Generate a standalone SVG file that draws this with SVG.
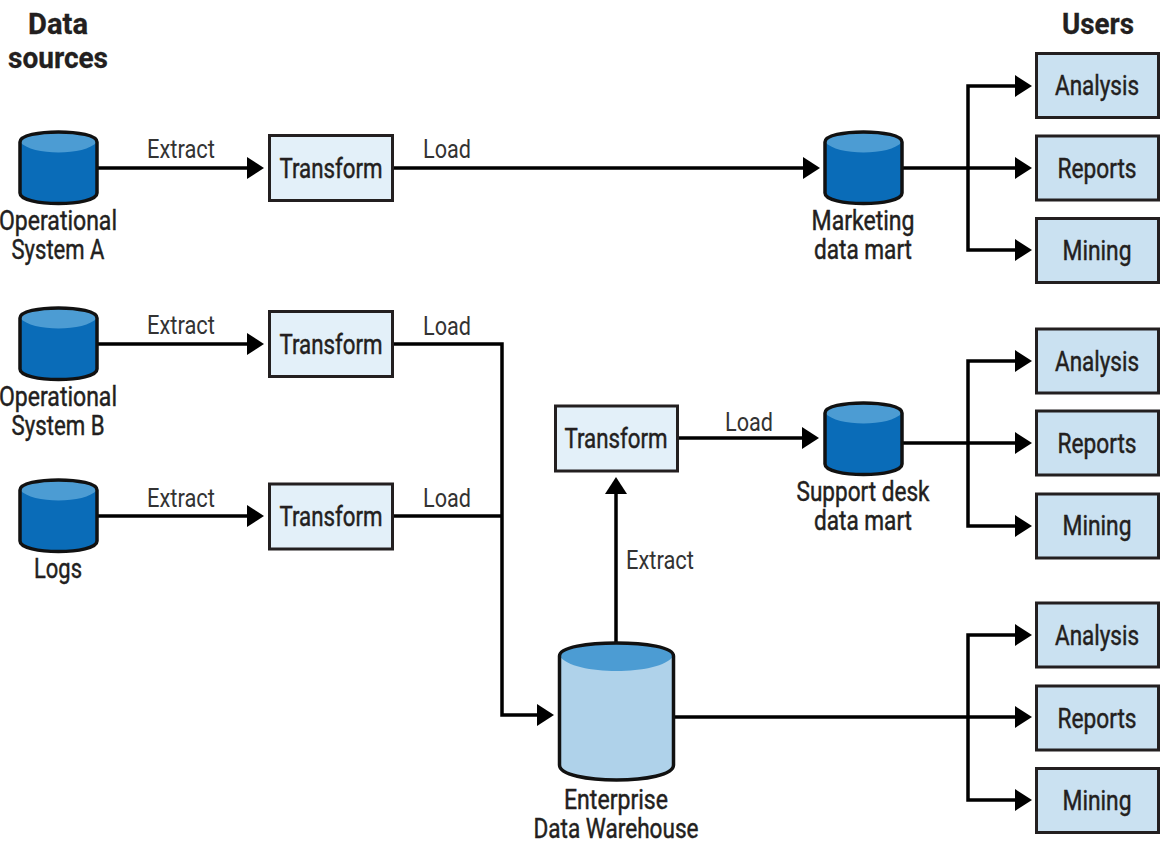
<svg xmlns="http://www.w3.org/2000/svg" xmlns:xlink="http://www.w3.org/1999/xlink" width="1170" height="848" viewBox="0 0 1170 848">
<style>
text{font-family:Roboto,"Liberation Sans",sans-serif;fill:#231f20;text-anchor:middle;font-size:27px;stroke:#231f20;stroke-width:.45px;transform:translateY(.7px)}
.h{font-size:29px;font-weight:700;stroke:#231f20;stroke-width:.3px}
.l{font-size:26px;stroke:none;fill:#333}
.t{fill:#e3f0f9;stroke:#231f20;stroke-width:3}
.u{fill:#cae1f1;stroke:#231f20;stroke-width:3}
.c{fill:none;stroke:#000;stroke-width:3.5;stroke-linejoin:miter}
.body{fill:#0a6cb8}
.top{fill:#4c9cd3}
.wb{fill:#afd2ea}
.o{fill:none;stroke:#111;stroke-width:3.5}
</style>
<defs>
<marker id="a" markerUnits="userSpaceOnUse" markerWidth="20" markerHeight="26" refX="0" refY="11" orient="auto" overflow="visible"><path d="M0 0L17 11L0 22Z" fill="#000"/></marker>
<g id="cyl"><path class="body" d="M20 142C20 128.500 97 128.500 97 142V193C97 207 20 207 20 193Z"/><path class="top" d="M20 142C20 128.500 97 128.500 97 142C85 156 32 156 20 142Z"/><path class="o" d="M20 142C20 128.500 97 128.500 97 142V193C97 207 20 207 20 193Z"/></g>
</defs>
<g id="connectors">
<path class="c" marker-end="url(#a)" d="M98 168H247"/>
<path class="c" marker-end="url(#a)" d="M392 168H803"/>
<path class="c" marker-end="url(#a)" d="M903 168H1015"/>
<path class="c" marker-end="url(#a)" d="M968 168V86H1015"/>
<path class="c" marker-end="url(#a)" d="M968 168V250H1015"/>
<path class="c" marker-end="url(#a)" d="M98 344H247"/>
<path class="c" marker-end="url(#a)" d="M98 516H247"/>
<path class="c" marker-end="url(#a)" d="M392 344H502V715H537"/>
<path class="c" d="M392 516H502"/>
<path class="c" marker-end="url(#a)" d="M678 438H802"/>
<path class="c" marker-end="url(#a)" d="M616 643V494"/>
<path class="c" marker-end="url(#a)" d="M903 443H1015"/>
<path class="c" marker-end="url(#a)" d="M968 443V361H1015"/>
<path class="c" marker-end="url(#a)" d="M968 443V526H1015"/>
<path class="c" marker-end="url(#a)" d="M674 717H1015"/>
<path class="c" marker-end="url(#a)" d="M968 717V635H1015"/>
<path class="c" marker-end="url(#a)" d="M968 717V800H1015"/>
</g>
<g id="headers">
<text class="h" x="58" y="33" textLength="60" lengthAdjust="spacingAndGlyphs">Data</text>
<text class="h" x="58" y="67" textLength="100" lengthAdjust="spacingAndGlyphs">sources</text>
<text class="h" x="1098" y="33" textLength="72" lengthAdjust="spacingAndGlyphs">Users</text>
</g>
<g id="labels">
<text class="l" x="181" y="157" textLength="68" lengthAdjust="spacingAndGlyphs">Extract</text>
<text class="l" x="447" y="157" textLength="48" lengthAdjust="spacingAndGlyphs">Load</text>
<text class="l" x="181" y="333" textLength="68" lengthAdjust="spacingAndGlyphs">Extract</text>
<text class="l" x="447" y="334" textLength="48" lengthAdjust="spacingAndGlyphs">Load</text>
<text class="l" x="181" y="506" textLength="68" lengthAdjust="spacingAndGlyphs">Extract</text>
<text class="l" x="447" y="506" textLength="48" lengthAdjust="spacingAndGlyphs">Load</text>
<text class="l" x="749" y="430" textLength="48" lengthAdjust="spacingAndGlyphs">Load</text>
<text class="l" x="660" y="568" textLength="68" lengthAdjust="spacingAndGlyphs">Extract</text>
</g>
<g id="op-a"><use xlink:href="#cyl" href="#cyl"/><text x="58" y="229" textLength="118" lengthAdjust="spacingAndGlyphs">Operational</text><text x="58" y="258" textLength="93" lengthAdjust="spacingAndGlyphs">System A</text></g>
<g id="op-b"><use xlink:href="#cyl" href="#cyl" y="176"/><text x="58" y="405" textLength="118" lengthAdjust="spacingAndGlyphs">Operational</text><text x="58" y="434" textLength="93" lengthAdjust="spacingAndGlyphs">System B</text></g>
<g id="logs"><use xlink:href="#cyl" href="#cyl" y="348"/><text x="58" y="577" textLength="48" lengthAdjust="spacingAndGlyphs">Logs</text></g>
<g id="transform-a"><rect class="t" x="269.500" y="135.500" width="123" height="65"/><text x="331" y="177" textLength="103" lengthAdjust="spacingAndGlyphs">Transform</text></g>
<g id="transform-b"><rect class="t" x="269.500" y="311.500" width="123" height="65"/><text x="331" y="353" textLength="103" lengthAdjust="spacingAndGlyphs">Transform</text></g>
<g id="transform-c"><rect class="t" x="269.500" y="484" width="123" height="65"/><text x="331" y="525" textLength="103" lengthAdjust="spacingAndGlyphs">Transform</text></g>
<g id="transform-d"><rect class="t" x="555.500" y="406" width="122" height="65"/><text x="616" y="447" textLength="103" lengthAdjust="spacingAndGlyphs">Transform</text></g>
<g id="marketing"><use xlink:href="#cyl" href="#cyl" x="805"/><text x="863" y="229" textLength="103" lengthAdjust="spacingAndGlyphs">Marketing</text><text x="863" y="258" textLength="98" lengthAdjust="spacingAndGlyphs">data mart</text></g>
<g id="support"><use xlink:href="#cyl" href="#cyl" x="805" y="271"/><text x="863" y="500" textLength="133" lengthAdjust="spacingAndGlyphs">Support desk</text><text x="863" y="529" textLength="98" lengthAdjust="spacingAndGlyphs">data mart</text></g>
<g id="warehouse"><path class="wb" d="M559.500 656C559.500 638.500 673.500 638.500 673.500 656V765C673.500 785 559.500 785 559.500 765Z"/><path class="top" d="M559.500 656C559.500 638.500 673.500 638.500 673.500 656C660 676 573 676 559.500 656Z"/><path class="o" d="M559.500 656C559.500 638.500 673.500 638.500 673.500 656V765C673.500 785 559.500 785 559.500 765Z"/><text x="616" y="808" textLength="104" lengthAdjust="spacingAndGlyphs">Enterprise</text><text x="616" y="837" textLength="165" lengthAdjust="spacingAndGlyphs">Data Warehouse</text></g>
<g id="u1a"><rect class="u" x="1036.500" y="53.500" width="122" height="64"/><text x="1097" y="94" textLength="84" lengthAdjust="spacingAndGlyphs">Analysis</text></g>
<g id="u1r"><rect class="u" x="1036.500" y="136" width="122" height="64"/><text x="1097" y="177" textLength="79" lengthAdjust="spacingAndGlyphs">Reports</text></g>
<g id="u1m"><rect class="u" x="1036.500" y="218.500" width="122" height="64"/><text x="1097" y="259" textLength="69" lengthAdjust="spacingAndGlyphs">Mining</text></g>
<g id="u2a"><rect class="u" x="1036.500" y="329" width="122" height="64"/><text x="1097" y="370" textLength="84" lengthAdjust="spacingAndGlyphs">Analysis</text></g>
<g id="u2r"><rect class="u" x="1036.500" y="411" width="122" height="64"/><text x="1097" y="452" textLength="79" lengthAdjust="spacingAndGlyphs">Reports</text></g>
<g id="u2m"><rect class="u" x="1036.500" y="494" width="122" height="64"/><text x="1097" y="534" textLength="69" lengthAdjust="spacingAndGlyphs">Mining</text></g>
<g id="u3a"><rect class="u" x="1036.500" y="603" width="122" height="64"/><text x="1097" y="644" textLength="84" lengthAdjust="spacingAndGlyphs">Analysis</text></g>
<g id="u3r"><rect class="u" x="1036.500" y="686" width="122" height="64"/><text x="1097" y="727" textLength="79" lengthAdjust="spacingAndGlyphs">Reports</text></g>
<g id="u3m"><rect class="u" x="1036.500" y="768.500" width="122" height="64"/><text x="1097" y="809" textLength="69" lengthAdjust="spacingAndGlyphs">Mining</text></g>
</svg>
